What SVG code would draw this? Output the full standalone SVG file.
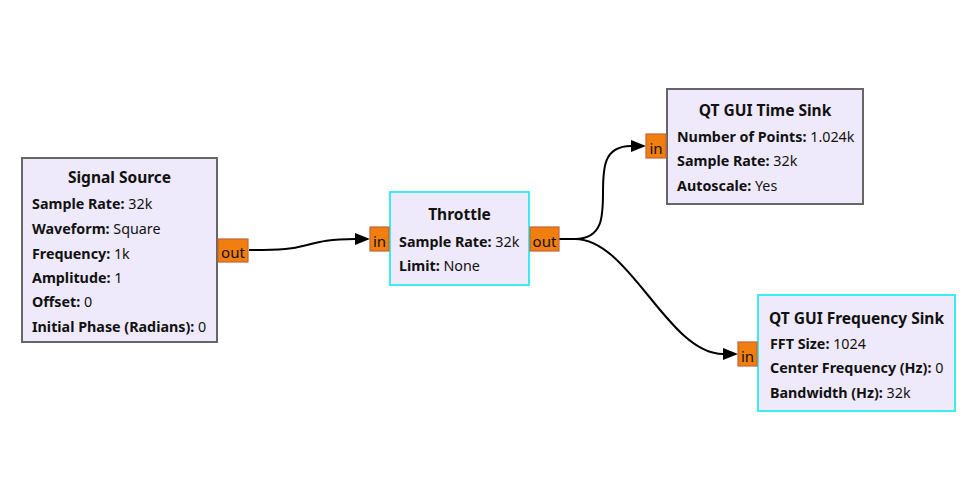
<svg xmlns="http://www.w3.org/2000/svg" width="980" height="478" viewBox="0 0 980 478">
<style>
text{font-family:"Noto Sans","Open Sans","DejaVu Sans",sans-serif;fill:#111}
.box{fill:#EFEAFB;stroke:#666;stroke-width:2}
.sel{fill:#EFEAFB;stroke:#3BEDF2;stroke-width:2}
.title{font-size:15.5px;font-weight:bold;text-anchor:middle}
.row{font-size:14.3px}
.k{font-weight:bold}
.port{fill:#F07F10;stroke:#C4643A;stroke-width:1.2}
.pl{font-size:15px;text-anchor:middle}
.wire{fill:none;stroke:#000;stroke-width:2}
</style>
<defs>
<marker id="ah" markerUnits="userSpaceOnUse" markerWidth="16" markerHeight="14" refX="0" refY="6" orient="auto">
<path d="M0,0 L15,6 L0,12 Z" fill="#000"/>
</marker>
</defs>
<rect width="980" height="478" fill="#fff"/>
<g id="connectors">
<path class="wire" d="M249,250 H263 C313,250 305,239 355,239" marker-end="url(#ah)"/>
<path class="wire" d="M559,239 H575 C631,239 575,146 631,146" marker-end="url(#ah)"/>
<path class="wire" d="M559,239 H575 C630,239 668,354 723,354" marker-end="url(#ah)"/>
</g>
<g id="signal_source">
<rect class="box" x="22" y="158" width="195" height="184"/>
<text class="title" x="119.5" y="183">Signal Source</text>
<text class="row" x="32" y="209"><tspan class="k">Sample Rate:</tspan> 32k</text>
<text class="row" x="32" y="234"><tspan class="k">Waveform:</tspan> Square</text>
<text class="row" x="32" y="259"><tspan class="k">Frequency:</tspan> 1k</text>
<text class="row" x="32" y="283"><tspan class="k">Amplitude:</tspan> 1</text>
<text class="row" x="32" y="307"><tspan class="k">Offset:</tspan> 0</text>
<text class="row" x="32" y="332"><tspan class="k">Initial Phase (Radians):</tspan> 0</text>
<rect class="port" x="218" y="239" width="30" height="23"/>
<text class="pl" x="233" y="257.5">out</text>
</g>
<g id="throttle">
<rect class="sel" x="390" y="192" width="139" height="93"/>
<text class="title" x="459.5" y="220">Throttle</text>
<text class="row" x="399" y="247"><tspan class="k">Sample Rate:</tspan> 32k</text>
<text class="row" x="399" y="271"><tspan class="k">Limit:</tspan> None</text>
<rect class="port" x="370" y="227" width="19" height="24"/>
<text class="pl" x="379.5" y="246.5">in</text>
<rect class="port" x="530" y="227" width="29" height="24"/>
<text class="pl" x="544.5" y="246.5">out</text>
</g>
<g id="time_sink">
<rect class="box" x="667" y="89" width="196" height="115"/>
<text class="title" x="765" y="116">QT GUI Time Sink</text>
<text class="row" x="677" y="142"><tspan class="k">Number of Points:</tspan> 1.024k</text>
<text class="row" x="677" y="166"><tspan class="k">Sample Rate:</tspan> 32k</text>
<text class="row" x="677" y="191"><tspan class="k">Autoscale:</tspan> Yes</text>
<rect class="port" x="646" y="134" width="20" height="24"/>
<text class="pl" x="656" y="153.5">in</text>
</g>
<g id="freq_sink">
<rect class="sel" x="758" y="295" width="197" height="116"/>
<text class="title" x="856.5" y="324">QT GUI Frequency Sink</text>
<text class="row" x="770" y="349"><tspan class="k">FFT Size:</tspan> 1024</text>
<text class="row" x="770" y="373"><tspan class="k">Center Frequency (Hz):</tspan> 0</text>
<text class="row" x="770" y="398"><tspan class="k">Bandwidth (Hz):</tspan> 32k</text>
<rect class="port" x="738" y="342" width="19" height="24"/>
<text class="pl" x="747.5" y="361.5">in</text>
</g>
</svg>
